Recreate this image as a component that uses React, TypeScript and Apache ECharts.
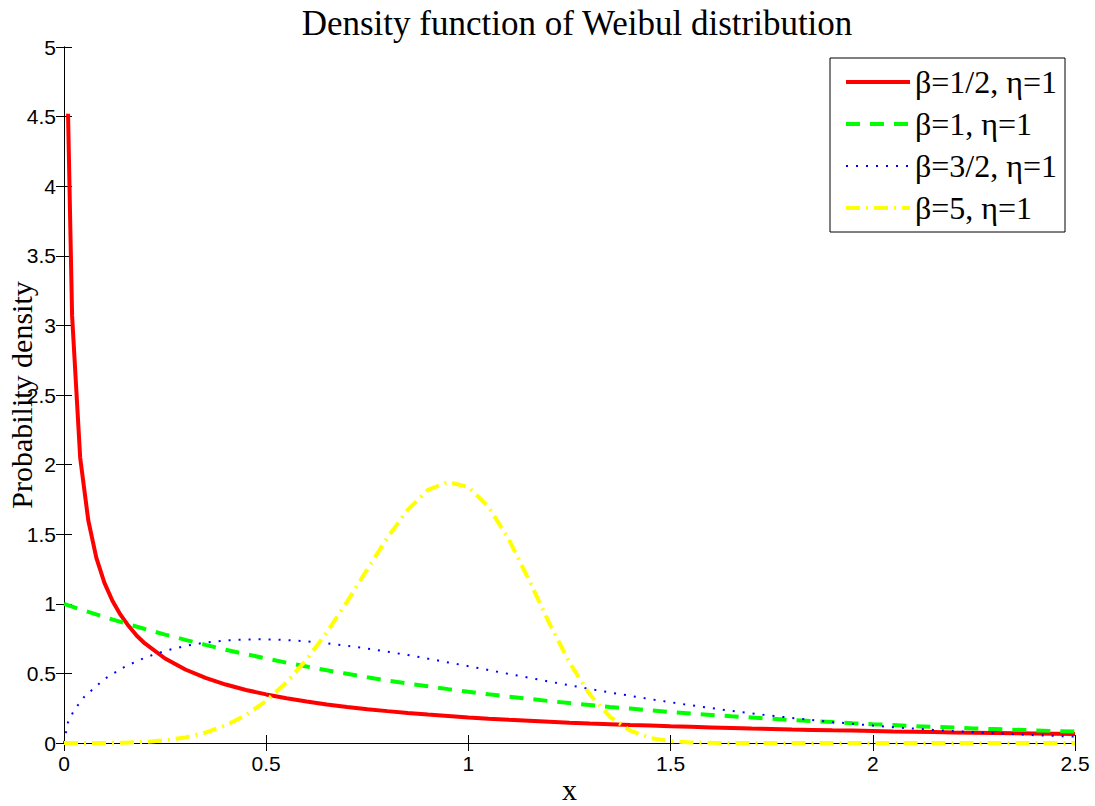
import React, { useEffect, useRef } from "react";
import * as echarts from "echarts";

const titleText = "Density function of Weibul distribution";
const xAxisName = "x";
const yAxisName = "Probability density";
const seriesNames = ["β=1/2, η=1", "β=1, η=1", "β=3/2, η=1", "β=5, η=1"];

const redX = [0.01, 0.02, 0.04, 0.06, 0.08, 0.1, 0.12, 0.14, 0.16, 0.18, 0.2, 0.25, 0.3, 0.35, 0.4, 0.45, 0.5, 0.55, 0.6, 0.65, 0.7, 0.75, 0.8, 0.85, 0.9, 0.95, 1.0, 1.05, 1.1, 1.15, 1.2, 1.25, 1.3, 1.35, 1.4, 1.45, 1.5, 1.55, 1.6, 1.65, 1.7, 1.75, 1.8, 1.85, 1.9, 1.95, 2.0, 2.05, 2.1, 2.15, 2.2, 2.25, 2.3, 2.35, 2.4, 2.45, 2.5];
const redY = [4.52, 3.07, 2.05, 1.6, 1.33, 1.15, 1.02, 0.92, 0.84, 0.77, 0.715, 0.607, 0.528, 0.468, 0.42, 0.381, 0.349, 0.321, 0.298, 0.277, 0.259, 0.243, 0.229, 0.216, 0.204, 0.194, 0.184, 0.175, 0.167, 0.16, 0.153, 0.146, 0.14, 0.135, 0.129, 0.125, 0.12, 0.116, 0.112, 0.108, 0.104, 0.101, 0.097, 0.094, 0.091, 0.089, 0.086, 0.083, 0.081, 0.079, 0.076, 0.074, 0.072, 0.07, 0.069, 0.067, 0.065];

const gridX = [0, 0.05, 0.1, 0.15, 0.2, 0.25, 0.3, 0.35, 0.4, 0.45, 0.5, 0.55, 0.6, 0.65, 0.7, 0.75, 0.8, 0.85, 0.9, 0.95, 1.0, 1.05, 1.1, 1.15, 1.2, 1.25, 1.3, 1.35, 1.4, 1.45, 1.5, 1.55, 1.6, 1.65, 1.7, 1.75, 1.8, 1.85, 1.9, 1.95, 2.0, 2.05, 2.1, 2.15, 2.2, 2.25, 2.3, 2.35, 2.4, 2.45, 2.5];
const greenY = [1.0, 0.951, 0.905, 0.861, 0.819, 0.779, 0.741, 0.705, 0.67, 0.638, 0.607, 0.577, 0.549, 0.522, 0.497, 0.472, 0.449, 0.427, 0.407, 0.387, 0.368, 0.35, 0.333, 0.317, 0.301, 0.287, 0.273, 0.259, 0.247, 0.235, 0.223, 0.212, 0.202, 0.192, 0.183, 0.174, 0.165, 0.157, 0.15, 0.142, 0.135, 0.129, 0.122, 0.116, 0.111, 0.105, 0.1, 0.095, 0.091, 0.086, 0.082];

const blueX = [0, 0.01, 0.025, 0.05, 0.1, 0.15, 0.2, 0.25, 0.3, 0.35, 0.4, 0.45, 0.5, 0.55, 0.6, 0.65, 0.7, 0.75, 0.8, 0.85, 0.9, 0.95, 1.0, 1.05, 1.1, 1.15, 1.2, 1.25, 1.3, 1.35, 1.4, 1.45, 1.5, 1.55, 1.6, 1.65, 1.7, 1.75, 1.8, 1.85, 1.9, 1.95, 2.0, 2.05, 2.1, 2.15, 2.2, 2.25, 2.3, 2.35, 2.4, 2.45, 2.5];
const blueY = [0, 0.15, 0.236, 0.332, 0.46, 0.548, 0.613, 0.662, 0.697, 0.722, 0.737, 0.744, 0.745, 0.74, 0.73, 0.716, 0.699, 0.678, 0.656, 0.632, 0.606, 0.579, 0.552, 0.524, 0.496, 0.469, 0.441, 0.415, 0.388, 0.363, 0.339, 0.315, 0.293, 0.271, 0.251, 0.231, 0.213, 0.196, 0.18, 0.165, 0.151, 0.138, 0.125, 0.114, 0.104, 0.094, 0.085, 0.077, 0.07, 0.063, 0.056, 0.051, 0.046];

const yellowY = [0, 0, 0.0005, 0.0025, 0.008, 0.0195, 0.04, 0.075, 0.127, 0.201, 0.303, 0.435, 0.6, 0.795, 1.015, 1.248, 1.476, 1.675, 1.818, 1.875, 1.839, 1.695, 1.462, 1.17, 0.861, 0.578, 0.349, 0.188, 0.089, 0.036, 0.013, 0.004, 0.001, 0, 0, 0, 0, 0, 0, 0, 0, 0, 0, 0, 0, 0, 0, 0, 0, 0, 0];

const xTicks = { min: 0, max: 2.5, interval: 0.5 };
const yTicks = { min: 0, max: 5, interval: 0.5 };

const zip = (xs: number[], ys: number[]) => xs.map((x, i) => [x, ys[i]]);

const SERIF = "'Liberation Serif', 'Times New Roman', serif";
const SANS = "'Liberation Sans', Arial, sans-serif";

const lineStyles = [
  { color: "#ff0000", width: 4, type: "solid" as any },
  { color: "#00ff00", width: 4, type: [14, 10] },
  { color: "#0000ff", width: 2, type: [2, 8] },
  { color: "#ffff00", width: 4, type: [14, 6, 2, 6] },
];

export default function App() {
  const ref = useRef<HTMLDivElement>(null);
  useEffect(() => {
    if (!ref.current) return;
    const chart = echarts.init(ref.current, undefined, { renderer: "svg" });
    const axisLine = { show: true, lineStyle: { color: "#000", width: 1 } };
    const tick = { show: true, inside: true, length: 8, lineStyle: { color: "#000", width: 1 } };
    const label = { color: "#000", fontSize: 21, fontFamily: SANS };
    const datasets = [zip(redX, redY), zip(gridX, greenY), zip(blueX, blueY), zip(gridX, yellowY)];
    chart.setOption({
      animation: false,
      backgroundColor: "#fff",
      title: {
        text: titleText,
        left: 572,
        top: 1,
        textAlign: "center",
        textStyle: { fontFamily: SERIF, fontSize: 35, fontWeight: "normal", color: "#000" },
      },
      grid: { left: 64, right: 20, top: 47, bottom: 63, containLabel: false, outerBoundsMode: "none" },
      legend: {
        orient: "vertical",
        right: 30,
        top: 58,
        backgroundColor: "#fff",
        borderColor: "#000",
        borderWidth: 1,
        borderRadius: 0,
        padding: [8, 8, 8, 14],
        itemWidth: 64,
        itemHeight: 14,
        itemGap: 10,
        itemStyle: { opacity: 0 },
        textStyle: { fontFamily: SERIF, fontSize: 32, color: "#000", lineHeight: 32 },
        data: seriesNames.map((name, i) => ({
          name,
          lineStyle: { width: lineStyles[i].width, type: lineStyles[i].type, color: lineStyles[i].color },
        })),
      },
      xAxis: [
        {
          type: "value",
          ...xTicks,
          position: "bottom",
          name: xAxisName,
          nameLocation: "middle",
          nameGap: 31,
          nameMoveOverlap: false,
          nameTextStyle: { fontFamily: SERIF, fontSize: 30, color: "#000" },
          axisLine,
          axisTick: tick,
          axisLabel: { ...label, margin: 10 },
          splitLine: { show: false },
        },
        {
          type: "value",
          ...xTicks,
          position: "top",
          axisLine,
          axisTick: tick,
          axisLabel: { show: false },
          splitLine: { show: false },
        },
      ],
      yAxis: [
        {
          type: "value",
          ...yTicks,
          position: "left",
          name: yAxisName,
          nameLocation: "middle",
          nameGap: 28,
          nameRotate: 90,
          nameMoveOverlap: false,
          nameTextStyle: { fontFamily: SERIF, fontSize: 30, color: "#000" },
          axisLine,
          axisTick: tick,
          axisLabel: { ...label, margin: 8 },
          splitLine: { show: false },
        },
        {
          type: "value",
          ...yTicks,
          position: "right",
          axisLine,
          axisTick: tick,
          axisLabel: { show: false },
          splitLine: { show: false },
        },
      ],
      series: seriesNames.map((name, i) => ({
        name,
        type: "line",
        data: datasets[i],
        showSymbol: false,
        symbol: "none",
        lineStyle: lineStyles[i],
        itemStyle: { color: lineStyles[i].color },
      })),
    });
    return () => chart.dispose();
  }, []);
  return (
    <div
      ref={ref}
      style={{ position: "fixed", left: 0, top: 0, width: 1095, height: 806, background: "#fff" }}
    />
  );
}
